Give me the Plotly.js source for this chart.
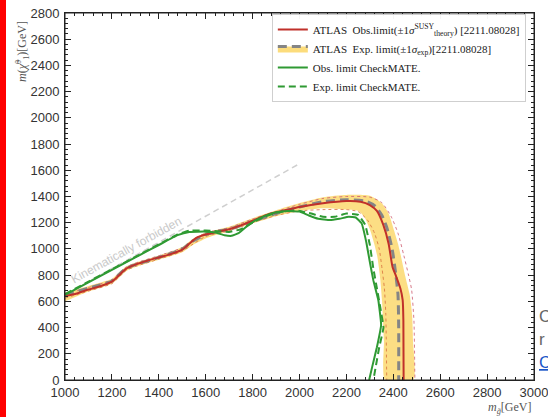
<!DOCTYPE html>
<html>
<head>
<meta charset="utf-8">
<script src="https://cdn.plot.ly/plotly-3.0.1.min.js"></script>
<style>html,body{margin:0;padding:0;background:#fff;}#chart{width:548px;height:417px;}</style>
</head>
<body>
<div id="chart"></div>
<script>
// ---- Data ----
// ATLAS observed limit (red solid)
const obsX = [1000,1050,1100,1150,1200,1225,1260,1300,1350,1400,1450,1500,1530,1560,1600,1650,1700,1750,1800,1860,1950,2000,2100,2200,2260,2300,2330,2357,2380,2397,2410,2430,2440,2443,2444];
const obsY = [640,660,690,715,750,790,848,880,910,935,960,995,1040,1085,1110,1130,1150,1180,1215,1260,1300,1320,1348,1365,1360,1335,1290,1185,1040,860,800,700,610,450,0];
// ATLAS observed +/-1 sigma theory (dotted)
const obsUpX = [1000,1100,1200,1225,1260,1300,1400,1500,1540,1600,1700,1800,1900,2000,2100,2200,2300,2350,2390,2420,2445,2465,2478,2488,2492];
const obsUpY = [655,705,765,805,860,892,948,1010,1062,1122,1162,1228,1285,1340,1385,1400,1395,1355,1250,1120,950,800,690,450,0];
const obsLoX = [1000,1100,1200,1225,1260,1300,1400,1500,1540,1600,1700,1800,1900,2000,2100,2200,2250,2290,2320,2340,2352,2362,2368,2372];
const obsLoY = [625,678,735,775,835,866,922,982,1030,1095,1138,1200,1255,1290,1300,1300,1285,1220,1120,1000,850,700,500,0];
// ATLAS expected limit (grey dashed)
const expX = [1000,1100,1200,1225,1260,1300,1400,1500,1540,1600,1650,1700,1800,1900,2000,2100,2200,2280,2320,2350,2372,2395,2410,2420,2423,2423];
const expY = [650,700,755,795,850,880,935,1000,1055,1110,1135,1150,1210,1270,1320,1360,1375,1365,1330,1260,1165,1000,814,650,400,0];
// ATLAS expected +/-1 sigma band (yellow)
const bandUpX = [1000,1100,1200,1225,1260,1300,1400,1500,1540,1600,1700,1800,1900,2000,2100,2200,2300,2350,2380,2400,2420,2432,2450,2470,2480,2484,2485];
const bandUpY = [668,718,772,812,866,895,950,1015,1070,1125,1170,1235,1295,1350,1395,1412,1405,1350,1270,1160,1040,950,800,650,500,300,0];
const bandLoX = [1000,1100,1200,1225,1260,1300,1400,1500,1540,1600,1650,1700,1800,1900,2000,2100,2200,2250,2275,2300,2320,2332,2345,2352,2360,2365];
const bandLoY = [600,675,735,770,830,862,918,975,1025,1080,1110,1135,1195,1250,1290,1310,1300,1290,1250,1150,1030,940,760,600,300,0];
// CheckMATE observed (green solid)
const cmObsX = [1000,1100,1200,1300,1400,1480,1530,1600,1640,1680,1710,1740,1780,1800,1850,1900,1950,2000,2040,2080,2130,2170,2210,2240,2265,2285,2300,2315,2336,2348,2330,2310,2297];
const cmObsY = [650,745,840,935,1030,1105,1130,1132,1125,1105,1100,1120,1180,1205,1250,1280,1290,1285,1255,1230,1220,1230,1245,1240,1195,1050,900,760,610,420,250,100,0];
// CheckMATE expected (green dashed)
const cmExpX = [1000,1100,1200,1300,1400,1480,1530,1600,1650,1700,1750,1800,1850,1900,1950,2000,2050,2100,2150,2200,2250,2280,2300,2315,2330,2345,2358,2340,2325,2315];
const cmExpY = [655,750,845,940,1035,1110,1140,1140,1135,1130,1150,1200,1245,1275,1290,1290,1270,1245,1245,1270,1260,1185,1030,850,700,550,400,250,100,0];
// Kinematic limit
const diagX = [1000, 2000];
const diagY = [650, 1650];

const xTicks = [1000,1200,1400,1600,1800,2000,2200,2400,2600,2800,3000];
const yTicks = [0,200,400,600,800,1000,1200,1400,1600,1800,2000,2200,2400,2600,2800];

const legendNames = [
  'ATLAS  Obs.limit(±1<i>σ</i><sup>SUSY</sup><sub>theory</sub>) [2211.08028]',
  'ATLAS  Exp. limit(±1<i>σ</i><sub>exp</sub>)[2211.08028]',
  'Obs. limit CheckMATE.',
  'Exp. limit CheckMATE.'
];

// ---- Traces ----
const sp = 'spline';
const traces = [
  {x: diagX, y: diagY, mode: 'lines', showlegend: false, hoverinfo: 'skip',
   line: {color: '#cfcfcf', width: 1.5, dash: '6px,4px'}},
  {x: bandUpX.concat(bandLoX.slice().reverse()), y: bandUpY.concat(bandLoY.slice().reverse()),
   mode: 'lines', fill: 'toself', fillcolor: 'rgba(252,216,110,0.85)', showlegend: false,
   line: {width: 0, shape: sp, smoothing: 0.6}, hoverinfo: 'skip'},
  {x: obsUpX, y: obsUpY, mode: 'lines', showlegend: false,
   line: {color: 'rgba(205,90,110,0.8)', width: 1, dash: 'dot', shape: sp, smoothing: 0.6}},
  {x: obsLoX, y: obsLoY, mode: 'lines', showlegend: false,
   line: {color: 'rgba(215,110,60,0.8)', width: 1, dash: 'dot', shape: sp, smoothing: 0.6}},
  // dummy copy of expected line so that the expected trace shows a yellow fill in the legend
  {x: expX, y: expY, mode: 'lines', showlegend: false, hoverinfo: 'skip',
   line: {width: 0, shape: sp, smoothing: 0.6}},
  {x: expX, y: expY, mode: 'lines', name: legendNames[1], legendrank: 2,
   fill: 'tonexty', fillcolor: 'rgba(252,216,110,0.9)',
   line: {color: '#858585', width: 3, dash: '9px,5px', shape: sp, smoothing: 0.6}},
  {x: obsX, y: obsY, mode: 'lines', name: legendNames[0], legendrank: 1,
   line: {color: '#c0302a', width: 2, shape: sp, smoothing: 0.6}},
  {x: cmExpX, y: cmExpY, mode: 'lines', name: legendNames[3], legendrank: 4,
   line: {color: '#2f9a33', width: 2, dash: '7px,4px', shape: sp, smoothing: 0.3}},
  {x: cmObsX, y: cmObsY, mode: 'lines', name: legendNames[2], legendrank: 3,
   line: {color: '#2f9a33', width: 2, shape: sp, smoothing: 0.3}}
];

const minorTicks = {dtick: 40, ticks: 'inside', ticklen: 3, tickcolor: '#222', showgrid: false};
const axisCommon = {
  ticks: 'inside', ticklen: 6, tickwidth: 1, tickcolor: '#222',
  showline: true, linecolor: '#222', linewidth: 1, mirror: 'allticks',
  showgrid: false, zeroline: false, ticklabeloverflow: 'allow',
  tickfont: {family: 'Liberation Sans, Arial, sans-serif', size: 13, color: '#333'},
  minor: minorTicks
};
const mirrorAxis = {
  ticks: 'inside', ticklen: 6, tickwidth: 1, tickcolor: '#222',
  showline: false, showgrid: false, zeroline: false, showticklabels: false,
  minor: minorTicks
};

const layout = {
  width: 548, height: 417,
  margin: {l: 65, r: 14, t: 13, b: 37, pad: 0},
  paper_bgcolor: '#ffffff', plot_bgcolor: '#ffffff',
  showlegend: true,
  xaxis: Object.assign({}, axisCommon, {range: [1000, 3000], tickvals: xTicks, ticktext: xTicks.map(String)}),
  yaxis: Object.assign({}, axisCommon, {range: [0, 2800], tickvals: yTicks, ticktext: yTicks.map(String), ticklabelstandoff: 2}),
  xaxis2: Object.assign({}, mirrorAxis, {overlaying: 'x', side: 'top', anchor: 'y', range: [1000, 3000], tickvals: xTicks}),
  yaxis2: Object.assign({}, mirrorAxis, {overlaying: 'y', side: 'right', anchor: 'x', range: [0, 2800], tickvals: yTicks}),
  legend: {
    x: 0.441, y: 0.9975, xanchor: 'left', yanchor: 'top', traceorder: 'normal',
    bgcolor: 'rgba(255,255,255,0.96)', bordercolor: '#cfcfcf', borderwidth: 1,
    font: {family: 'Liberation Serif, DejaVu Serif, serif', size: 11, color: '#222'},
    tracegroupgap: 0, itemwidth: 30
  },
  shapes: [
    {type: 'rect', xref: 'paper', yref: 'paper', x0: 0, x1: 1, y0: 0, y1: 1,
     line: {color: '#222', width: 1}, fillcolor: 'rgba(0,0,0,0)', layer: 'above'},
    {type: 'rect', xref: 'paper', yref: 'paper', x0: -65/469, x1: -59/469, y0: -37/367, y1: 1 + 13/367,
     fillcolor: '#ff0000', line: {width: 0}, layer: 'above'}
  ],
  annotations: [
    {text: 'Kinematically forbidden', x: 1262, y: 995, xref: 'x', yref: 'y', showarrow: false,
     xanchor: 'center', yanchor: 'middle',
     textangle: -29, font: {family: 'Liberation Sans, Arial, sans-serif', size: 12, color: '#c9c9c9'}},
    {text: '<i>m</i>(<i>χ̃</i><sup>0</sup><sub>1</sub>)[GeV]', xref: 'paper', yref: 'paper',
     x: (22 - 65) / 469, y: (380 - 52) / 367, xanchor: 'center', yanchor: 'middle', showarrow: false, textangle: -90,
     font: {family: 'Liberation Serif, DejaVu Serif, serif', size: 12, color: '#555'}},
    {text: '<i>m</i><sub><i>g̃</i></sub>[GeV]', xref: 'paper', yref: 'paper',
     x: 1, xanchor: 'right', y: (380 - 408) / 367, yanchor: 'middle', showarrow: false,
     font: {family: 'Liberation Serif, DejaVu Serif, serif', size: 12, color: '#555'}},
    {text: 'C', xref: 'paper', yref: 'paper', x: (537 - 65) / 469, xanchor: 'left', y: (380 - 316) / 367, yanchor: 'middle',
     showarrow: false, font: {family: 'Liberation Sans, Arial, sans-serif', size: 17, color: '#666'}},
    {text: 'r', xref: 'paper', yref: 'paper', x: (537 - 65) / 469, xanchor: 'left', y: (380 - 339) / 367, yanchor: 'middle',
     showarrow: false, font: {family: 'Liberation Sans, Arial, sans-serif', size: 17, color: '#666'}},
    {text: '<u>C</u>', xref: 'paper', yref: 'paper', x: (537 - 65) / 469, xanchor: 'left', y: (380 - 362) / 367, yanchor: 'middle',
     showarrow: false, font: {family: 'Liberation Sans, Arial, sans-serif', size: 17, color: '#1a56c8'}}
  ]
};

Plotly.newPlot('chart', traces, layout, {displayModeBar: false, staticPlot: true});
</script>
</body>
</html>
